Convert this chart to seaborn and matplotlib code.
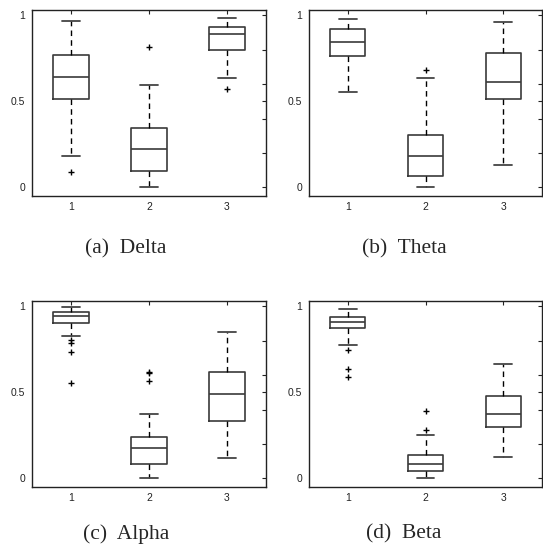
import matplotlib
matplotlib.use("Agg")
import matplotlib.pyplot as plt
import seaborn as sns

sns.set_style("white")
plt.rcParams['font.family'] = ['Liberation Sans', 'DejaVu Sans']

# Summary statistics, per band: groups 1, 2, 3
bands = ['Delta', 'Theta', 'Alpha', 'Beta']
panel_tags = ['(a)', '(b)', '(c)', '(d)']
groups = ['1', '2', '3']

whislo = {
    'Delta': [0.181, 0.000, 0.637],
    'Theta': [0.553, 0.000, 0.128],
    'Alpha': [0.827, 0.004, 0.118],
    'Beta':  [0.776, 0.002, 0.126],
}
q1 = {
    'Delta': [0.513, 0.093, 0.798],
    'Theta': [0.763, 0.066, 0.512],
    'Alpha': [0.904, 0.082, 0.331],
    'Beta':  [0.874, 0.043, 0.296],
}
median = {
    'Delta': [0.643, 0.223, 0.891],
    'Theta': [0.842, 0.183, 0.613],
    'Alpha': [0.945, 0.175, 0.492],
    'Beta':  [0.907, 0.086, 0.375],
}
q3 = {
    'Delta': [0.771, 0.344, 0.930],
    'Theta': [0.922, 0.307, 0.778],
    'Alpha': [0.967, 0.241, 0.616],
    'Beta':  [0.940, 0.136, 0.479],
}
whishi = {
    'Delta': [0.969, 0.596, 0.981],
    'Theta': [0.977, 0.638, 0.959],
    'Alpha': [0.994, 0.373, 0.851],
    'Beta':  [0.982, 0.251, 0.665],
}
fliers = {
    'Delta': [[0.089], [0.816], [0.571]],
    'Theta': [[], [0.681], []],
    'Alpha': [[0.802, 0.784, 0.735, 0.553], [0.618, 0.612, 0.567], []],
    'Beta':  [[0.745, 0.638, 0.588], [0.393, 0.282], []],
}

W, H = 543, 552
fig = plt.figure(figsize=(W / 100, H / 100), dpi=100)

# axes boxes in pixels: left, top, right, bottom
boxes = [(32, 10, 266, 196), (309, 10, 542, 196),
         (32, 301, 266, 487), (309, 301, 542, 487)]
caption_pos = [(126, 249), (404, 249), (126, 534), (404, 534)]

edge = '#222222'
for band, tag, (l, t, r, b), (cx, cy) in zip(bands, panel_tags, boxes, caption_pos):
    ax = fig.add_axes([l / W, 1 - b / H, (r - l) / W, (b - t) / H])
    stats = []
    for i, g in enumerate(groups):
        stats.append(dict(label=g, med=median[band][i], q1=q1[band][i], q3=q3[band][i],
                          whislo=whislo[band][i], whishi=whishi[band][i],
                          fliers=fliers[band][i]))
    ax.bxp(stats, positions=[1, 2, 3], widths=0.45, showfliers=True,
           boxprops=dict(color='#3a3a3a', linewidth=1.2),
           medianprops=dict(color='#3a3a3a', linewidth=1.2),
           whiskerprops=dict(color='black', linewidth=1.0, linestyle=(0, (4, 3))),
           capprops=dict(color='#444444', linewidth=1.3),
           flierprops=dict(marker='+', markeredgecolor='black', markersize=5,
                           markeredgewidth=1.0, linestyle='none'),
           capwidths=0.225)
    ax.set_xlim(0.5, 3.5)
    ax.set_ylim(-0.05, 1.03)
    ax.set_yticks([0, 0.5, 1])
    ax.set_yticklabels(['0', '0.5', '1'])
    ax.set_yticks([0.2, 0.4, 0.6, 0.8], minor=True)
    ax.set_xticks([1, 2, 3])
    ax.set_xticklabels(groups)
    ax.tick_params(which='both', direction='in', top=True, right=True, length=3,
                   width=0.8, color=edge, labelsize=7.5, labelcolor='#222222')
    ax.tick_params(axis='y', pad=5)
    ax.tick_params(axis='x', pad=4)
    for s in ax.spines.values():
        s.set_color(edge)
        s.set_linewidth(1.0)
    fig.text(cx / W, 1 - cy / H, f'{tag}  {band}', ha='center', va='center',
             fontsize=15.5, family=['Liberation Serif', 'DejaVu Serif'])

fig.savefig('out.png', dpi=100)
